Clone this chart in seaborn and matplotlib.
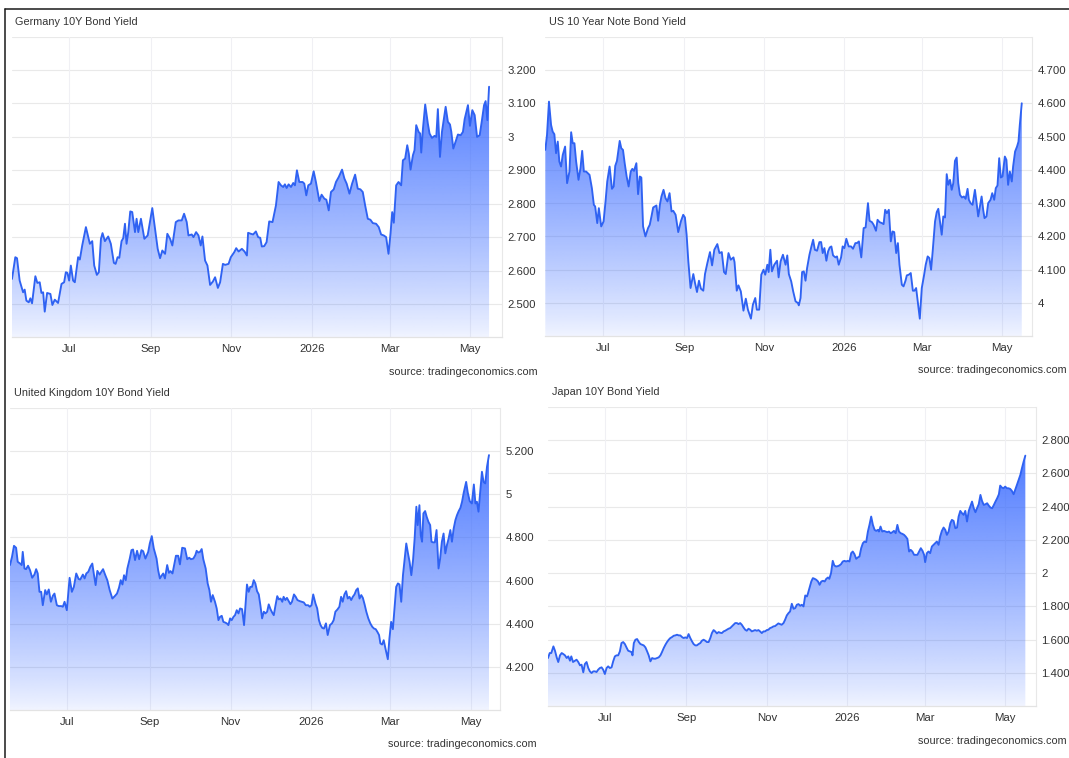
import numpy as np
import pandas as pd
import matplotlib
matplotlib.use("Agg")
import matplotlib.pyplot as plt
import matplotlib.dates as mdates
from matplotlib.patches import Polygon
from matplotlib.lines import Line2D
from matplotlib.ticker import FuncFormatter
import seaborn as sns

sns.set_style("white")
plt.rcParams["font.family"] = ["Liberation Sans", "DejaVu Sans"]

# ---------------- data ----------------
BASE_DATE = "2025-07-01"          # day offsets below are counted from this date
MONTH_TICKS = ["2025-07-01", "2025-09-01", "2025-11-01", "2026-01-01", "2026-03-01", "2026-05-01"]
MONTH_LABELS = ["Jul", "Sep", "Nov", "2026", "Mar", "May"]
SOURCE = "source: tradingeconomics.com"

de_title = "Germany 10Y Bond Yield"
de_days = [
    -43.3, -40.8, -39.5, -37.5, -34.9, -33.7, -32.4, -30.6, -29.4, -28.1,
    -25.6, -24.1, -22.3, -21.0, -19.7, -18.5, -16.7, -14.2, -12.7, -10.9,
    -8.4, -5.8, -3.8, -2.5, -1.3, 0.0, 1.3, 3.0, 4.3, 6.8,
    8.1, 9.9, 12.7, 15.7, 17.5, 19.0, 21.0, 22.5, 24.1, 25.3,
    27.1, 29.6, 31.6, 33.9, 35.2, 36.7, 38.0, 39.7, 41.0, 42.3,
    43.5, 44.8, 46.3, 47.8, 49.9, 51.1, 52.4, 54.4, 57.0, 59.5,
    63.0, 65.1, 67.1, 68.9, 70.6, 72.7, 74.4, 76.5, 78.2, 80.8,
    82.8, 85.3, 87.1, 89.1, 90.4, 92.9, 94.2, 96.2, 98.0, 99.7,
    101.0, 103.0, 104.8, 106.8, 108.9, 110.6, 112.7, 114.4, 116.5, 118.2,
    120.8, 122.5, 125.1, 126.6, 128.4, 130.9, 132.9, 134.7,
    135.6, 137.7, 139.4, 141.5, 143.2, 144.8, 146.0, 147.8, 149.6, 151.6,
    154.1, 156.7, 158.7, 160.5, 162.2, 163.5, 164.8, 166.3, 168.1, 169.8,
    171.1, 172.6, 174.4, 176.9, 178.2, 179.7, 181.2, 183.2, 185.3, 187.0,
    189.6, 191.3, 193.4, 194.9, 196.7, 198.4, 200.5, 202.2, 204.3, 206.8,
    208.6, 210.3, 212.4, 214.4, 216.7, 218.7, 220.7, 222.5, 224.3, 226.3,
    228.3, 230.1, 232.6, 234.6, 236.4, 238.4, 240.2, 242.0, 243.5, 244.8,
    246.0, 247.8, 249.6, 251.6, 252.9, 254.6, 256.2, 257.4, 258.7, 260.5,
    261.7, 263.0, 264.8, 266.0, 266.8, 268.1, 269.8, 271.8, 273.1, 274.9,
    276.9, 278.2, 279.4, 281.0, 282.5, 285.3, 287.0, 288.6, 289.6, 291.1,
    292.9, 294.6, 296.7, 298.4, 299.7, 302.2, 303.7, 305.5, 307.3, 309.1,
    311.1, 312.8, 314.4, 315.6, 316.9, 318.2,
]
de_vals = [
    2.575, 2.640, 2.637, 2.570, 2.535, 2.543, 2.510, 2.505, 2.517, 2.502,
    2.583, 2.563, 2.565, 2.533, 2.535, 2.477, 2.533, 2.530, 2.497, 2.513,
    2.503, 2.560, 2.565, 2.595, 2.593, 2.570, 2.615, 2.570, 2.565, 2.640,
    2.633, 2.675, 2.730, 2.680, 2.688, 2.615, 2.587, 2.595, 2.695, 2.712,
    2.688, 2.702, 2.680, 2.623, 2.620, 2.640, 2.638, 2.688, 2.697, 2.740,
    2.680, 2.715, 2.777, 2.775, 2.715, 2.755, 2.715, 2.755, 2.695, 2.705,
    2.787, 2.725, 2.665, 2.637, 2.660, 2.650, 2.710, 2.695, 2.675, 2.745,
    2.750, 2.750, 2.770, 2.745, 2.705, 2.708, 2.700, 2.715, 2.705, 2.675,
    2.702, 2.630, 2.615, 2.557, 2.567, 2.580, 2.548, 2.565, 2.620, 2.617,
    2.620, 2.640, 2.655, 2.667, 2.657, 2.665, 2.657, 2.645,
    2.713, 2.710, 2.708, 2.717, 2.700, 2.698, 2.672, 2.673, 2.685, 2.747,
    2.745, 2.795, 2.865, 2.855, 2.850, 2.858, 2.847, 2.858, 2.850, 2.862,
    2.855, 2.900, 2.865, 2.865, 2.860, 2.825, 2.855, 2.860, 2.897, 2.865,
    2.808, 2.827, 2.815, 2.812, 2.780, 2.835, 2.843, 2.865, 2.880, 2.902,
    2.875, 2.860, 2.830, 2.860, 2.887, 2.845, 2.843, 2.835, 2.795, 2.755,
    2.752, 2.742, 2.740, 2.730, 2.708, 2.705, 2.700, 2.650, 2.710, 2.775,
    2.743, 2.855, 2.865, 2.855, 2.930, 2.935, 2.975, 2.950, 2.902, 2.945,
    2.960, 3.035, 3.015, 3.010, 2.953, 3.025, 3.097, 3.040, 3.010, 2.997,
    3.003, 3.000, 3.083, 2.940, 3.015, 3.090, 3.045, 3.037, 3.015, 2.965,
    2.987, 3.007, 3.005, 3.015, 3.053, 3.095, 3.033, 3.080, 3.065, 3.000,
    3.005, 3.050, 3.095, 3.107, 3.050, 3.150,
]
de_yticks = [2.5, 2.6, 2.7, 2.8, 2.9, 3.0, 3.1, 3.2]

us_title = "US 10 Year Note Bond Yield"
us_days = [
    -43.9, -42.6, -41.1, -39.5, -38.3, -37.0, -35.7, -34.4, -33.2, -31.9,
    -30.6, -28.8, -27.3, -25.5, -24.2, -23.0, -21.7, -20.4, -18.6, -17.1,
    -15.8, -14.5, -12.8, -10.2, -8.4, -6.9, -5.9, -4.3, -3.1, -1.3,
    0.5, 2.0, 3.3, 5.1, 6.9, 8.2, 9.4, 10.7, 12.8, 14.0,
    15.3, 16.6, 18.1, 19.6, 21.2, 22.4, 23.7, 25.5, 26.8, 28.1,
    29.3, 30.6, 32.4, 34.4, 35.7, 37.0, 38.3, 40.8, 42.1, 43.4,
    44.6, 46.2, 47.7, 49.2, 50.8, 52.3, 53.6, 55.4, 57.4, 59.4,
    61.2, 62.5, 63.8, 65.1, 66.8, 68.9, 70.2, 71.7, 73.2, 74.7,
    76.5, 77.8, 79.6, 81.6, 83.2, 84.9, 87.2, 88.8, 90.6, 92.3,
    93.6, 95.7, 97.4, 99.5, 100.3, 102.0, 103.3, 105.1, 107.1, 108.9,
    110.5, 112.8, 114.3, 116.1, 117.3, 119.1, 120.7, 122.4, 123.7, 125.3,
    126.3, 127.6, 128.8, 130.6, 132.7, 133.9,
    135.4, 137.2, 139.2, 140.5, 141.7, 143.5, 145.0, 146.8, 148.6, 149.3,
    150.6, 151.8, 153.1, 154.4, 155.6, 157.4, 158.9, 160.2, 161.5, 163.2,
    165.0, 166.3, 167.5, 168.8, 170.3, 171.6, 172.9, 174.1, 175.4, 177.2,
    178.4, 179.7, 181.5, 182.7, 184.0, 185.5, 187.3, 189.1, 190.6, 192.4,
    193.6, 195.1, 196.9, 198.7, 200.2, 202.0, 203.2, 205.0, 206.3, 208.1,
    209.3, 210.8, 212.6, 213.9, 215.1, 216.4, 217.9, 219.4, 220.7, 222.0,
    223.5, 224.8, 226.0, 227.8, 229.1, 230.6, 231.6, 233.1, 234.6, 236.2,
    237.4, 238.7, 239.9, 241.5, 243.0, 244.8, 246.0, 247.5, 248.8, 250.1,
    251.3, 253.1, 254.4, 255.6, 256.9, 258.2, 259.4, 260.7, 262.0, 263.2,
    264.5, 265.8, 267.0, 268.3, 269.6, 270.8, 272.1, 273.6, 275.1, 276.4,
    277.9, 278.9, 280.2, 281.7, 283.5, 284.8, 286.0, 287.3, 288.6, 289.8,
    290.8, 292.3, 293.6, 295.4, 296.7, 298.2, 299.4, 300.7, 302.0, 303.2,
    304.5, 306.3, 307.5, 308.8, 310.1, 311.6, 312.6, 314.1, 315.6, 316.7,
    317.7, 319.2,
]
us_vals = [
    4.460, 4.505, 4.605, 4.535, 4.515, 4.507, 4.450, 4.485, 4.425, 4.410,
    4.445, 4.470, 4.360, 4.395, 4.513, 4.480, 4.480, 4.425, 4.370, 4.405,
    4.457, 4.395, 4.395, 4.385, 4.345, 4.295, 4.290, 4.240, 4.285, 4.230,
    4.245, 4.305, 4.365, 4.410, 4.343, 4.350, 4.412, 4.427, 4.487, 4.465,
    4.460, 4.420, 4.380, 4.350, 4.395, 4.403, 4.397, 4.420, 4.327, 4.380,
    4.377, 4.230, 4.200, 4.225, 4.235, 4.260, 4.287, 4.293, 4.247, 4.295,
    4.320, 4.340, 4.315, 4.305, 4.330, 4.275, 4.277, 4.265, 4.213, 4.245,
    4.265, 4.257, 4.205, 4.125, 4.045, 4.087, 4.060, 4.033, 4.067, 4.043,
    4.037, 4.087, 4.120, 4.153, 4.113, 4.160, 4.177, 4.150, 4.153, 4.093,
    4.087, 4.150, 4.130, 4.137, 4.123, 4.037, 4.053, 4.035, 3.977, 4.013,
    3.980, 3.953, 3.995, 4.015, 3.980, 3.980, 4.085, 4.100, 4.085, 4.115,
    4.093, 4.160, 4.095, 4.115, 4.127, 4.077,
    4.125, 4.145, 4.115, 4.143, 4.087, 4.065, 4.035, 4.005, 4.000, 3.993,
    4.015, 4.093, 4.095, 4.067, 4.105, 4.145, 4.170, 4.190, 4.160, 4.157,
    4.183, 4.183, 4.150, 4.165, 4.127, 4.155, 4.167, 4.170, 4.143, 4.137,
    4.140, 4.115, 4.137, 4.170, 4.165, 4.193, 4.170, 4.170, 4.163, 4.180,
    4.180, 4.185, 4.137, 4.225, 4.227, 4.300, 4.247, 4.243, 4.235, 4.217,
    4.250, 4.243, 4.240, 4.237, 4.280, 4.270, 4.280, 4.185, 4.215, 4.213,
    4.150, 4.180, 4.115, 4.055, 4.050, 4.067, 4.083, 4.085, 4.090, 4.037,
    4.037, 4.045, 4.005, 3.953, 4.045, 4.085, 4.115, 4.140, 4.135, 4.100,
    4.155, 4.245, 4.273, 4.283, 4.245, 4.205, 4.260, 4.257, 4.387, 4.355,
    4.370, 4.340, 4.360, 4.427, 4.437, 4.360, 4.325, 4.317, 4.320, 4.313,
    4.343, 4.310, 4.300, 4.295, 4.340, 4.300, 4.260, 4.290, 4.320, 4.280,
    4.255, 4.260, 4.300, 4.310, 4.330, 4.310, 4.345, 4.353, 4.435, 4.377,
    4.380, 4.440, 4.430, 4.355, 4.395, 4.365, 4.410, 4.455, 4.470, 4.485,
    4.535, 4.600,
]
us_yticks = [4.0, 4.1, 4.2, 4.3, 4.4, 4.5, 4.6, 4.7]

uk_title = "United Kingdom 10Y Bond Yield"
uk_days = [
    -43.1, -41.6, -40.1, -38.5, -37.3, -35.5, -34.3, -33.5, -32.2, -31.0,
    -29.5, -28.0, -26.4, -24.7, -23.4, -22.2, -20.9, -19.6, -18.4, -16.6,
    -15.4, -13.9, -12.3, -10.8, -9.6, -7.8, -6.3, -4.5, -3.3, -2.0,
    -0.3, 1.8, 3.5, 5.0, 6.8, 8.6, 9.8, 11.8, 13.1, 14.4,
    15.9, 17.4, 18.9, 20.2, 21.4, 22.7, 24.4, 25.7, 27.0, 28.7,
    30.2, 32.0, 34.0, 35.8, 37.5, 39.0, 40.3, 41.6, 42.8, 44.1,
    45.3, 47.1, 48.4, 49.6, 51.1, 52.6, 54.2, 55.9, 57.2, 58.9,
    61.0, 62.2, 63.7, 65.2, 67.3, 68.5, 69.8, 71.0, 72.3, 73.6,
    75.3, 76.6, 77.8, 79.3, 80.6, 81.9, 83.6, 84.9, 86.6, 88.7,
    90.4, 91.9, 93.2, 95.0, 96.5, 97.5, 98.7, 100.0, 101.3, 102.5,
    104.3, 105.8, 107.1, 108.3, 109.6, 111.3, 112.6, 113.9, 115.1, 116.4,
    117.6, 118.9, 120.2, 121.4, 122.7, 123.9, 125.2, 126.4, 127.7, 129.0,
    130.2, 131.7, 133.2,
    135.4, 136.7, 137.9, 139.2, 140.5, 141.7, 143.0, 144.3, 145.5, 146.8,
    148.1, 149.3, 150.6, 151.8, 153.1, 154.4, 155.6, 156.9, 158.2, 159.4,
    160.7, 162.0, 163.0, 164.3, 165.5, 166.8, 168.1, 169.3, 170.8, 172.1,
    173.4, 175.1, 176.7, 178.2, 179.7, 181.5, 182.7, 184.0, 185.3, 187.0,
    188.3, 189.6, 190.8, 192.1, 193.4, 194.9, 196.2, 197.9, 199.4, 200.7,
    202.0, 203.5, 205.0, 206.3, 207.5, 208.8, 210.1, 211.3, 212.6, 213.9,
    215.1, 216.4, 217.7, 218.9, 220.2, 221.5, 222.7, 224.0, 225.3, 226.8,
    228.3, 229.8, 231.1, 232.4, 233.6, 234.9, 235.9, 237.2, 238.4, 239.7,
    241.5, 242.7, 244.0, 245.3, 246.5, 247.8, 249.1, 250.3, 251.6, 252.9,
    254.1, 255.4, 256.7, 257.9, 259.2, 260.5, 261.7, 263.0, 264.0, 265.3,
    266.3, 267.3, 268.3, 269.6, 270.8, 272.1, 273.4, 274.4, 275.6, 276.9,
    278.2, 279.7, 280.9, 282.2, 283.5, 284.8, 286.0, 287.3, 288.6, 289.8,
    291.1, 292.4, 293.6, 294.9, 296.2, 297.4, 298.7, 300.5, 301.7, 303.2,
    304.8, 306.3, 307.5, 308.6, 309.8, 311.1, 312.4, 313.6, 314.9, 316.2,
    317.7,
]
uk_vals = [
    4.672, 4.710, 4.761, 4.752, 4.687, 4.679, 4.672, 4.733, 4.656, 4.653,
    4.669, 4.648, 4.613, 4.628, 4.653, 4.633, 4.548, 4.548, 4.486, 4.556,
    4.536, 4.559, 4.502, 4.530, 4.540, 4.486, 4.482, 4.482, 4.479, 4.502,
    4.463, 4.613, 4.548, 4.571, 4.633, 4.607, 4.605, 4.628, 4.610, 4.633,
    4.641, 4.664, 4.679, 4.625, 4.579, 4.645, 4.628, 4.641, 4.653, 4.625,
    4.602, 4.556, 4.517, 4.528, 4.540, 4.567, 4.602, 4.582, 4.625, 4.602,
    4.656, 4.702, 4.741, 4.744, 4.695, 4.738, 4.699, 4.741, 4.736, 4.702,
    4.733, 4.772, 4.806, 4.749, 4.702, 4.648, 4.610, 4.622, 4.633, 4.610,
    4.672, 4.636, 4.644, 4.633, 4.675, 4.715, 4.715, 4.675, 4.752, 4.749,
    4.699, 4.706, 4.699, 4.702, 4.718, 4.738, 4.730, 4.733, 4.746, 4.699,
    4.656, 4.587, 4.556, 4.502, 4.533, 4.502, 4.471, 4.417, 4.432, 4.437,
    4.409, 4.406, 4.402, 4.394, 4.425, 4.417, 4.432, 4.440, 4.463, 4.448,
    4.471, 4.468, 4.394,
    4.582, 4.548, 4.571, 4.571, 4.602, 4.587, 4.551, 4.536, 4.486, 4.425,
    4.456, 4.448, 4.456, 4.490, 4.468, 4.452, 4.440, 4.486, 4.528, 4.513,
    4.517, 4.502, 4.525, 4.510, 4.520, 4.505, 4.491, 4.502, 4.536, 4.525,
    4.510, 4.505, 4.502, 4.499, 4.486, 4.486, 4.479, 4.486, 4.536, 4.494,
    4.471, 4.417, 4.394, 4.381, 4.378, 4.402, 4.348, 4.394, 4.402, 4.417,
    4.456, 4.466, 4.479, 4.525, 4.502, 4.536, 4.551, 4.517, 4.525, 4.510,
    4.525, 4.536, 4.556, 4.564, 4.517, 4.533, 4.520, 4.490, 4.456, 4.425,
    4.402, 4.386, 4.378, 4.375, 4.363, 4.348, 4.309, 4.304, 4.324, 4.286,
    4.236, 4.332, 4.409, 4.375, 4.471, 4.571, 4.587, 4.582, 4.502, 4.625,
    4.695, 4.772, 4.726, 4.687, 4.625, 4.695, 4.795, 4.942, 4.857, 4.949,
    4.810, 4.780, 4.911, 4.922, 4.895, 4.872, 4.857, 4.780, 4.777, 4.777,
    4.834, 4.656, 4.702, 4.780, 4.818, 4.726, 4.764, 4.795, 4.834, 4.780,
    4.841, 4.880, 4.903, 4.922, 4.937, 4.965, 5.008, 5.057, 5.008, 4.968,
    4.957, 5.045, 4.957, 4.965, 4.919, 5.014, 5.104, 5.057, 5.050, 5.127,
    5.181,
]
uk_yticks = [4.2, 4.4, 4.6, 4.8, 5.0, 5.2]

jp_title = "Japan 10Y Bond Yield"
jp_days = [
    -43.2, -41.9, -40.7, -39.1, -37.9, -36.6, -35.4, -34.1, -32.8, -31.6,
    -30.3, -29.0, -27.8, -26.5, -25.5, -24.2, -22.7, -21.5, -20.2, -18.9,
    -17.7, -16.4, -15.2, -13.9, -12.6, -11.4, -10.1, -8.8, -7.6, -6.3,
    -5.1, -3.8, -2.5, -1.3, 0.0, 1.3, 2.5, 3.8, 5.1, 6.3,
    7.6, 8.8, 10.1, 11.4, 12.6, 13.9, 15.2, 16.4, 17.7, 18.9,
    20.2, 21.0, 22.0, 23.2, 24.5, 25.8, 27.0, 28.3, 29.5, 30.8,
    32.1, 33.3, 34.6, 35.9, 37.1, 38.4, 39.6, 40.9, 42.2, 43.4,
    44.7, 46.0, 47.2, 48.5, 49.7, 51.0, 52.3, 53.5, 54.8, 56.1,
    57.3, 58.6, 59.8, 61.1, 62.4, 63.6, 64.9, 66.2, 67.4, 68.7,
    69.9, 71.2, 72.5, 73.7, 75.0, 76.3, 77.5, 78.8, 80.1, 81.3,
    82.6, 83.8, 85.1, 86.4, 87.6, 88.9, 90.2, 91.4, 92.7, 93.9,
    95.2, 96.5, 97.7, 99.0, 100.3, 101.5, 102.8, 104.0, 105.3, 106.6,
    107.8, 109.1, 110.4, 111.6, 112.9, 114.1, 115.4, 116.7, 117.9, 119.2,
    120.5, 121.7, 123.0, 124.2, 125.5, 126.8, 128.0, 129.3, 130.6, 131.8,
    133.1, 134.3,
    135.7, 136.9, 138.2, 139.5, 140.7, 142.0, 143.3, 144.6, 145.8, 147.1,
    148.4, 149.6, 150.9, 152.2, 153.5, 154.2, 155.5, 156.8, 158.0, 159.3,
    160.6, 161.9, 163.1, 164.4, 165.7, 167.0, 168.2, 169.5, 170.5, 171.8,
    173.1, 174.3, 175.6, 176.9, 178.1, 179.4, 180.7, 182.0, 183.2, 184.5,
    185.8, 187.1, 188.3, 189.6, 190.9, 192.1, 193.4, 194.7, 196.0, 197.2,
    198.5, 199.8, 201.0, 202.3, 203.6, 204.9, 206.1, 207.4, 208.2, 209.4,
    210.7, 212.0, 213.3, 214.5, 215.8, 217.1, 218.4, 219.6, 220.9, 222.2,
    223.4, 224.7, 226.0, 227.3, 228.5, 229.8, 231.1, 232.3, 233.6, 234.9,
    236.2, 237.4, 238.7, 240.0, 241.3, 242.5, 243.3, 244.6, 245.8, 247.1,
    248.4, 249.6, 250.9, 252.2, 253.5, 254.7, 256.0, 257.3, 258.6, 259.8,
    261.1, 262.4, 263.6, 264.9, 266.2, 267.5, 268.7, 270.0, 271.3, 272.5,
    273.8, 275.1, 276.4, 277.6, 278.9, 280.2, 281.5, 282.7, 284.0, 285.3,
    286.5, 287.8, 289.1, 290.4, 291.6, 292.9, 294.2, 295.5, 296.7, 298.0,
    299.3, 300.3, 301.6, 302.8, 304.1, 305.4, 306.6, 307.9, 309.2, 310.5,
    311.7, 313.0, 314.3, 315.6, 316.8, 318.1, 319.4,
]
jp_vals = [
    1.490, 1.520, 1.520, 1.560, 1.534, 1.494, 1.466, 1.506, 1.520, 1.514,
    1.506, 1.490, 1.500, 1.474, 1.500, 1.466, 1.474, 1.480, 1.466, 1.446,
    1.450, 1.404, 1.454, 1.466, 1.430, 1.410, 1.400, 1.410, 1.410, 1.406,
    1.420, 1.430, 1.434, 1.420, 1.394, 1.430, 1.440, 1.430, 1.434, 1.470,
    1.500, 1.506, 1.506, 1.530, 1.580, 1.586, 1.574, 1.554, 1.534, 1.530,
    1.526, 1.506, 1.580, 1.600, 1.604, 1.586, 1.574, 1.570, 1.566, 1.554,
    1.530, 1.506, 1.470, 1.490, 1.486, 1.486, 1.490, 1.494, 1.506, 1.526,
    1.550, 1.570, 1.586, 1.600, 1.610, 1.616, 1.624, 1.626, 1.630, 1.626,
    1.626, 1.616, 1.610, 1.614, 1.610, 1.634, 1.610, 1.590, 1.574, 1.566,
    1.566, 1.574, 1.580, 1.594, 1.600, 1.594, 1.586, 1.586, 1.610, 1.640,
    1.658, 1.650, 1.638, 1.646, 1.642, 1.640, 1.650, 1.654, 1.660, 1.666,
    1.670, 1.680, 1.690, 1.700, 1.700, 1.694, 1.700, 1.690, 1.674, 1.660,
    1.654, 1.666, 1.660, 1.650, 1.654, 1.658, 1.654, 1.658, 1.650, 1.640,
    1.650, 1.650, 1.658, 1.660, 1.670, 1.674, 1.680, 1.682, 1.690, 1.698,
    1.694, 1.690,
    1.700, 1.720, 1.746, 1.760, 1.770, 1.816, 1.786, 1.790, 1.810, 1.814,
    1.804, 1.810, 1.800, 1.866, 1.860, 1.876, 1.914, 1.950, 1.970, 1.966,
    1.960, 1.950, 1.930, 1.950, 1.954, 1.950, 1.966, 1.974, 1.966, 2.000,
    2.074, 2.046, 2.040, 2.042, 2.046, 2.054, 2.070, 2.074, 2.070, 2.074,
    2.070, 2.120, 2.130, 2.114, 2.086, 2.094, 2.100, 2.150, 2.180, 2.190,
    2.186, 2.250, 2.290, 2.340, 2.290, 2.260, 2.254, 2.260, 2.250, 2.280,
    2.250, 2.254, 2.250, 2.246, 2.250, 2.240, 2.246, 2.254, 2.240, 2.290,
    2.250, 2.240, 2.236, 2.230, 2.220, 2.206, 2.130, 2.140, 2.130, 2.110,
    2.110, 2.110, 2.130, 2.150, 2.134, 2.110, 2.066, 2.120, 2.130, 2.120,
    2.160, 2.170, 2.180, 2.190, 2.170, 2.220, 2.254, 2.274, 2.260, 2.230,
    2.250, 2.300, 2.320, 2.314, 2.270, 2.274, 2.340, 2.374, 2.360, 2.350,
    2.374, 2.310, 2.374, 2.400, 2.430, 2.390, 2.366, 2.390, 2.414, 2.470,
    2.434, 2.410, 2.414, 2.420, 2.406, 2.394, 2.390, 2.410, 2.430, 2.450,
    2.474, 2.526, 2.514, 2.510, 2.520, 2.510, 2.510, 2.506, 2.494, 2.474,
    2.500, 2.530, 2.560, 2.590, 2.630, 2.670, 2.706,
]
jp_yticks = [1.4, 1.6, 1.8, 2.0, 2.2, 2.4, 2.6, 2.8]

# ---------------- styling / layout ----------------
W, H = 1069, 758
LINE_COLOR = "#2f62f2"
FILL_RGB = (0.20, 0.40, 1.00)
GRID_H = "#e9e9e9"
GRID_V = "#f0f0f4"
TEXT = "#333333"

panels = [
    dict(title=de_title, days=de_days, vals=de_vals, yticks=de_yticks, ylim=(2.4, 3.3),
         rect=(12, 36.6, 502, 337.4), xlim=(-43.3, 328.0), title_xy=(15, 22), src_xy=(538, 372)),
    dict(title=us_title, days=us_days, vals=us_vals, yticks=us_yticks, ylim=(3.9, 4.8),
         rect=(545.3, 36.7, 1032, 336.3), xlim=(-43.9, 327.0), title_xy=(549, 22), src_xy=(1067, 370)),
    dict(title=uk_title, days=uk_days, vals=uk_vals, yticks=uk_yticks, ylim=(4.0, 5.4),
         rect=(10, 407.8, 500, 710.2), xlim=(-43.1, 326.0), title_xy=(14, 393), src_xy=(537, 744)),
    dict(title=jp_title, days=jp_days, vals=jp_vals, yticks=jp_yticks, ylim=(1.2, 3.0),
         rect=(548, 406.7, 1036, 706.3), xlim=(-43.2, 327.5), title_xy=(552, 392), src_xy=(1067, 741)),
]


def fmt_yield(v, _pos=None):
    r = round(v)
    if abs(v - r) < 1e-9:
        return str(int(r))
    return f"{v:.3f}"


fig = plt.figure(figsize=(W / 100, H / 100), dpi=100)
fig.patch.set_facecolor("white")

base = pd.Timestamp(BASE_DATE)
tick_dates = pd.to_datetime(MONTH_TICKS)

for p in panels:
    assert len(p["days"]) == len(p["vals"])
    l, t, r, b = p["rect"]
    ax = fig.add_axes([l / W, 1 - b / H, (r - l) / W, (b - t) / H])
    ax.set_facecolor("white")

    dates = base + pd.to_timedelta(np.array(p["days"]), unit="D")
    df = pd.DataFrame({"date": dates, "yield": p["vals"]})

    sns.lineplot(data=df, x="date", y="yield", ax=ax, color=LINE_COLOR, linewidth=1.35,
                 estimator=None, sort=False, zorder=4)

    x0 = base + pd.Timedelta(days=p["xlim"][0])
    x1 = base + pd.Timedelta(days=p["xlim"][1])
    y0, y1 = p["ylim"]
    xn0, xn1 = mdates.date2num(x0), mdates.date2num(x1)

    # vertical gradient clipped to the area under the line
    tgrad = np.linspace(0.0, 1.0, 256)
    grad = np.zeros((256, 1, 4))
    grad[:, 0, 0] = FILL_RGB[0]
    grad[:, 0, 1] = FILL_RGB[1]
    grad[:, 0, 2] = FILL_RGB[2]
    grad[:, 0, 3] = 0.07 + 0.91 * tgrad ** 0.85
    im = ax.imshow(grad, extent=[xn0, xn1, y0, y1], origin="lower", aspect="auto",
                   interpolation="bilinear", zorder=2)
    xnum = mdates.date2num(dates)
    verts = [(xnum[0], y0)] + list(zip(xnum, p["vals"])) + [(xnum[-1], y0)]
    poly = Polygon(verts, closed=True, facecolor="none", edgecolor="none", transform=ax.transData)
    ax.add_patch(poly)
    im.set_clip_path(poly)

    ax.set_xlim(x0, x1)
    ax.set_ylim(y0, y1)
    ax.set_aspect("auto")

    # grid
    for yv in p["yticks"] + [y1]:
        ax.axhline(yv, color=GRID_H, lw=0.8, zorder=1)
    for d in tick_dates:
        ax.axvline(d, color=GRID_V, lw=0.8, zorder=1)

    ax.set_xticks(tick_dates)
    ax.set_xticklabels(MONTH_LABELS)
    ax.set_yticks(p["yticks"])
    ax.yaxis.set_major_formatter(FuncFormatter(fmt_yield))
    ax.yaxis.tick_right()
    ax.tick_params(axis="x", length=0, pad=5, labelsize=8.2, labelcolor=TEXT)
    ax.tick_params(axis="y", length=0, pad=4, labelsize=8.2, labelcolor=TEXT)
    ax.set_xlabel("")
    ax.set_ylabel("")
    ax.grid(False)

    for side in ("top", "left"):
        ax.spines[side].set_visible(False)
    ax.spines["bottom"].set_color("#e3e3e3")
    ax.spines["bottom"].set_linewidth(0.9)
    ax.spines["right"].set_color("#e8e8e8")
    ax.spines["right"].set_linewidth(0.8)

    tx, ty = p["title_xy"]
    fig.text(tx / W, 1 - ty / H, p["title"], ha="left", va="center", fontsize=7.8, color=TEXT)
    sx, sy = p["src_xy"]
    fig.text(sx / W, 1 - sy / H, SOURCE, ha="right", va="center", fontsize=7.8, color=TEXT)

# screenshot frame lines (top and left)
fig.add_artist(Line2D([5 / W, 1.0], [1 - 8.5 / H, 1 - 8.5 / H], color="#1a1a1a", lw=1.1,
                      transform=fig.transFigure))
fig.add_artist(Line2D([5 / W, 5 / W], [1 - 8.5 / H, 0.0], color="#1a1a1a", lw=1.1,
                      transform=fig.transFigure))

fig.savefig("out.png", dpi=100, facecolor="white")
